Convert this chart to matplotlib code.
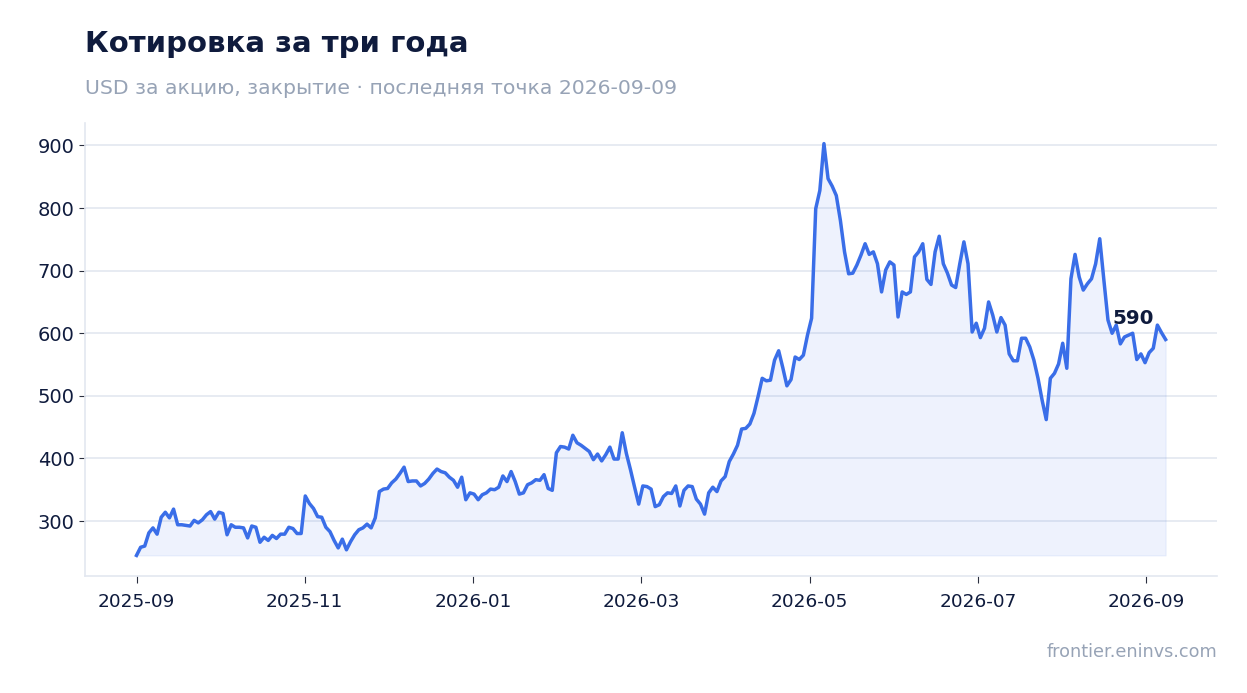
import numpy as np
import pandas as pd
import matplotlib
matplotlib.use("Agg")
import matplotlib.pyplot as plt
import matplotlib.dates as mdates

title = "Котировка за три года"
subtitle = "USD за акцию, закрытие · последняя точка 2026-09-09"
source = "frontier.eninvs.com"

start_date = "2025-09-01"
end_date = "2026-09-09"

# closing price, USD (evenly spaced in time)
prices = [
    245, 258, 260, 281, 289, 279, 306, 314, 305, 319, 294, 294, 293, 292, 301, 297, 302, 310,
    315, 303, 314, 312, 278, 294, 290, 290, 289, 273, 292, 290, 266, 274, 269, 277, 272,
    279, 279, 290, 288, 280, 280, 340, 328, 320, 307, 306, 290, 283, 269, 257, 271, 254, 267,
    278, 286, 289, 295, 289, 305, 347, 351, 352, 361, 367, 376, 386, 363, 364, 364, 356, 360,
    367, 376, 383, 379, 377, 370, 365, 354, 370, 334, 345, 343, 334, 342, 345, 351, 350, 354,
    372, 363, 379, 363, 343, 345, 358, 361, 366, 365, 374, 352, 349, 409, 419, 418, 415,
    437, 425, 421, 416, 411, 398, 407, 396, 406, 418, 399, 399, 441, 408, 382, 354, 327, 356,
    355, 351, 323, 326, 339, 345, 344, 356, 324, 349, 356, 355, 335, 327, 311, 345, 354,
    347, 364, 371, 395, 407, 421, 447, 448, 455, 472, 499, 528, 524, 525, 557, 572, 545, 516,
    526, 562, 558, 565, 597, 624, 799, 828, 903, 847, 835, 820, 780, 730, 695,
    696, 709, 725, 743, 726, 730, 711, 666, 701, 714, 709, 626, 666, 662, 666, 722, 730, 743,
    686, 678, 730, 755, 711, 696, 677, 673, 711, 746, 711, 602, 616, 593, 608,
    650, 629, 602, 625, 613, 567, 556, 556, 592, 592, 578, 557, 528, 493, 462, 528, 536, 551,
    584, 544, 687, 726, 690, 669, 679, 687, 711, 751, 685, 621, 600, 613, 583, 594, 597, 600,
    558, 567, 553, 569, 576, 613, 601, 590,
]
y_ticks = [300, 400, 500, 600, 700, 800, 900]
tick_step_days = 61

dates = pd.date_range(start_date, end_date, periods=len(prices))
prices = np.array(prices, dtype=float)

navy = "#0f1b3d"
blue = "#3a6ee8"
grid_c = "#e3e7f0"
muted = "#97a3b6"

fig = plt.figure(figsize=(12.47, 6.93), dpi=100)
ax = fig.add_axes([0.0682, 0.1688, 0.9078, 0.6537])

ax.fill_between(dates, prices, prices.min(), color=blue, alpha=0.085, linewidth=0.8)
ax.plot(dates, prices, color=blue, linewidth=2.5, solid_joinstyle="round")

ax.set_yticks(y_ticks)
ax.grid(axis="y", color=grid_c, linewidth=1.2)
ax.set_axisbelow(True)

xt = [pd.Timestamp(start_date) + pd.Timedelta(days=tick_step_days * k) for k in range(7)]
ax.set_xticks(xt)
ax.xaxis.set_major_formatter(mdates.DateFormatter("%Y-%m"))

for s in ["top", "right"]:
    ax.spines[s].set_visible(False)
for s in ["left", "bottom"]:
    ax.spines[s].set_color(grid_c)
    ax.spines[s].set_linewidth(1.2)
ax.tick_params(axis="y", labelsize=14, colors="#2a2f3f", labelcolor=navy, length=4)
ax.tick_params(axis="x", labelsize=13.3, colors="#2a2f3f", labelcolor=navy, length=5, pad=7)

ax.annotate(f"{prices[-1]:.0f}", xy=(dates[-1], prices[-1]), xytext=(-12, 12),
            textcoords="offset pixels", ha="right", va="bottom",
            fontsize=14.3, fontweight="bold", color=navy)

fig.text(0.0682, 0.936, title, fontsize=21, fontweight="bold", color=navy, va="center")
fig.text(0.0682, 0.873, subtitle, fontsize=14.7, color=muted, va="center")
fig.text(0.976, 0.059, source, fontsize=12.7, color=muted, ha="right", va="center")

fig.savefig("out.png", dpi=100, facecolor="white")
